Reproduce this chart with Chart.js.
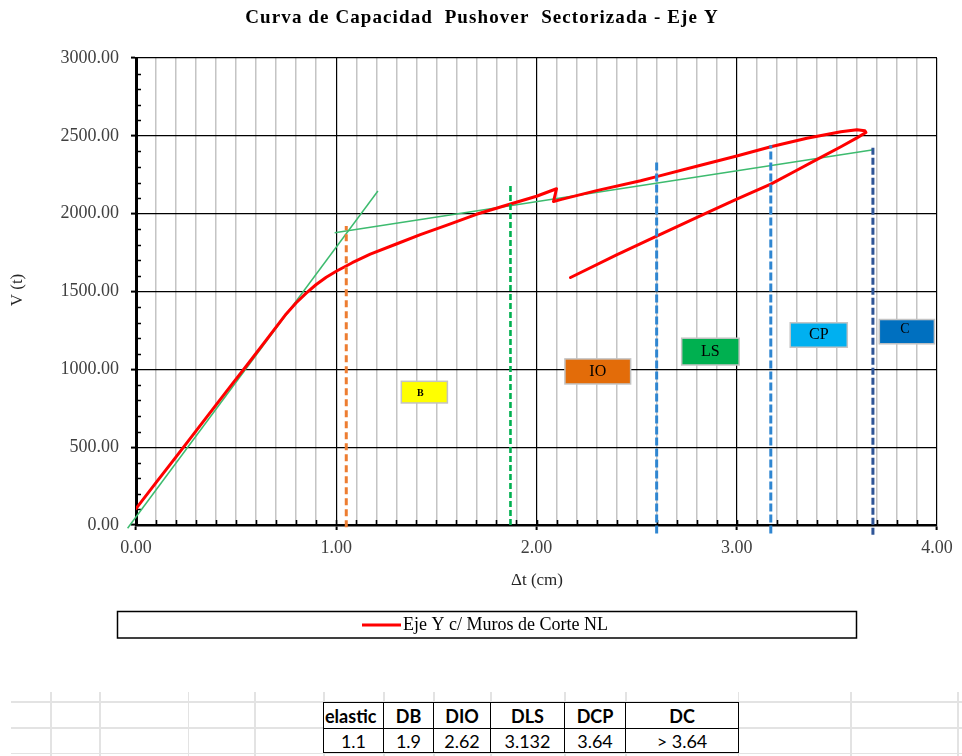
<!DOCTYPE html>
<html>
<head>
<meta charset="utf-8">
<title>Curva de Capacidad Pushover Sectorizada - Eje Y</title>
<script src="https://cdn.jsdelivr.net/npm/chart.js@4.4.1/dist/chart.umd.min.js"></script>
<style>
  html, body { margin: 0; padding: 0; background: #ffffff; }
  #wrap { position: relative; width: 962px; height: 756px; overflow: hidden; background: #ffffff; }
  #c { position: absolute; left: 0; top: 0; }
  .sheet-h { position: absolute; height: 1.5px; background: #e3e3e3; }
  .sheet-v { position: absolute; width: 1.5px; background: #e3e3e3; }
  table.lim {
    position: absolute; left: 323px; top: 702px;
    border-collapse: collapse; table-layout: fixed;
    font-family: Lato, "Open Sans", "Liberation Sans", sans-serif; color: #000;
    background: #fff;
  }
  table.lim td {
    border: 1.5px solid #000; padding: 0; text-align: center;
    overflow: hidden; white-space: nowrap; line-height: 1;
  }
  table.lim tr.head td { height: 25px; font-weight: bold; font-size: 18px; }
  table.lim tr.vals td { height: 23px; font-size: 18px; }
  table.lim tr.head td.first { text-align: left; padding-left: 1px; text-overflow: clip; }
</style>
</head>
<body>
<div id="wrap">
  <canvas id="c" width="962" height="756"></canvas>
</div>
<script>
// Pushover capacity curve, Y direction (walls with non-linear shear behaviour)
const displacement = [0.00, 0.10, 0.20, 0.30, 0.40, 0.48, 0.55, 0.65, 0.75, 0.80, 0.85, 0.90,
  0.95, 1.00, 1.08, 1.17, 1.30, 1.42, 1.56, 1.70, 1.87, 2.00, 2.10, 2.085, 2.12, 2.30, 2.52,
  2.60, 2.80, 3.00, 3.17, 3.35, 3.52, 3.60, 3.64, 3.645, 3.60, 3.52, 3.42, 3.30, 3.17, 3.00,
  2.85, 2.60, 2.40, 2.17];
const baseShear = [105, 272, 438, 605, 772, 905, 1020, 1188, 1356, 1428, 1490, 1545,
  1592, 1630, 1685, 1740, 1805, 1865, 1930, 1996, 2062, 2112, 2160, 2078, 2090, 2148, 2211,
  2238, 2305, 2370, 2430, 2485, 2526, 2539, 2533, 2522, 2487, 2430, 2362, 2279, 2190, 2093,
  2005, 1856, 1735, 1590];

// Bilinear idealisation: elastic branch and post-yield branch
const elasticX = [-0.042, 1.208];
const elasticY = [-21, 2146];
const plasticX = [0.992, 3.683];
const plasticY = [1878, 2410];

// Performance limit displacements (vertical markers)
const limitX = [1.05, 1.87, 2.60, 3.17, 3.68];
const limitTop = [1921, 2190, 2335, 2440, 2432];
const limitBottom = [-15, 0, -55, -55, -62];

// Performance level sectors
const levelNames = ['B', 'IO', 'LS', 'CP', 'C'];

// Summary table
const tableHeads = ['elastic', 'DB', 'DIO', 'DLS', 'DCP', 'DC'];
const tableValues = ['1.1', '1.9', '2.62', '3.132', '3.64', '> 3.64'];

// Axis ticks
const xTickLabels = ['0.00', '1.00', '2.00', '3.00', '4.00'];
const yTickLabels = ['0.00', '500.00', '1000.00', '1500.00', '2000.00', '2500.00', '3000.00'];

// ---- styling / placement of decorations ----
const limitStyles = [
  { color: '#ed7d31', width: 3, dash: [7, 4] },
  { color: '#00b050', width: 2.6, dash: [6, 3] },
  { color: '#2f86d1', width: 3, dash: [8, 3] },
  { color: '#2f86d1', width: 3, dash: [8, 3] },
  { color: '#2f5597', width: 3, dash: [7, 3] }
];
// sector tags, placed in axis units
const levelBoxes = [
  { x0: 1.325, x1: 1.555, y0: 784, y1: 923, fill: '#ffff00', font: 'bold 10px "Liberation Serif"', dx: -4, dy: 1, color: '#000' },
  { x0: 2.142, x1: 2.470, y0: 906, y1: 1067, fill: '#e36c09', font: '16px "Liberation Serif"', dx: 0, dy: 0, color: '#000' },
  { x0: 2.725, x1: 3.012, y0: 1028, y1: 1200, fill: '#00b050', font: '16px "Liberation Serif"', dx: 0, dy: 0, color: '#000' },
  { x0: 3.267, x1: 3.552, y0: 1142, y1: 1299, fill: '#00b0f0', font: '16px "Liberation Serif"', dx: 0, dy: 0, color: '#000' },
  { x0: 3.712, x1: 3.987, y0: 1164, y1: 1320, fill: '#0070c0', font: '14px "Liberation Serif"', dx: -2, dy: -2, color: '#000' }
];

const serif = '"Liberation Serif", "Times New Roman", serif';

function isWhole(v) { return Math.abs(v - Math.round(v)) < 1e-6; }

const datasets = [];
// vertical limit markers on top
limitX.forEach((lx, i) => {
  const st = limitStyles[i];
  datasets.push({
    label: 'lim' + i,
    data: [{ x: lx, y: limitBottom[i] }, { x: lx, y: limitTop[i] }],
    borderColor: st.color, borderWidth: st.width, borderDash: st.dash,
    pointRadius: 0, showLine: true, clip: false, order: 0, borderCapStyle: 'butt'
  });
});
datasets.push({
  label: 'Eje Y c/ Muros de Corte NL',
  data: displacement.map((d, i) => ({ x: d, y: baseShear[i] })),
  borderColor: '#ff0000', borderWidth: 3, pointRadius: 0, showLine: true,
  tension: 0, order: 1, borderJoinStyle: 'round', borderCapStyle: 'round'
});
datasets.push({
  label: 'elastic',
  data: elasticX.map((d, i) => ({ x: d, y: elasticY[i] })),
  borderColor: '#3dbb6f', borderWidth: 1.5, pointRadius: 0, showLine: true, clip: false, order: 2
});
datasets.push({
  label: 'plastic',
  data: plasticX.map((d, i) => ({ x: d, y: plasticY[i] })),
  borderColor: '#3dbb6f', borderWidth: 1.5, pointRadius: 0, showLine: true, clip: false, order: 2
});

const decor = {
  id: 'decor',
  beforeDatasetsDraw(chart) {
    const { ctx, chartArea: a, scales: { x, y } } = chart;
    ctx.save();
    ctx.strokeStyle = '#000';
    ctx.lineWidth = 1.6;
    ctx.beginPath();
    for (let v = 100; v < 3000; v += 100) {
      if (v % 500 === 0) continue;
      const py = Math.round(y.getPixelForValue(v)) + 0.5;
      ctx.moveTo(a.left, py); ctx.lineTo(a.left + 5, py);
    }
    for (let i = 1; i < 40; i++) {
      const px = Math.round(x.getPixelForValue(i / 10)) + 0.5;
      ctx.moveTo(px, a.bottom); ctx.lineTo(px, a.bottom - 5);
    }
    ctx.stroke();
    ctx.restore();
  },
  afterDatasetsDraw(chart) {
    const { ctx, scales: { x, y } } = chart;
    ctx.save();
    levelBoxes.forEach((b, i) => {
      const l = x.getPixelForValue(b.x0), r = x.getPixelForValue(b.x1);
      const t = y.getPixelForValue(b.y1), btm = y.getPixelForValue(b.y0);
      ctx.fillStyle = b.fill;
      ctx.fillRect(l, t, r - l, btm - t);
      ctx.strokeStyle = '#c3c3c3';
      ctx.lineWidth = 1.5;
      ctx.strokeRect(l, t, r - l, btm - t);
      ctx.fillStyle = b.color;
      ctx.font = b.font;
      ctx.textAlign = 'center';
      ctx.textBaseline = 'middle';
      ctx.fillText(levelNames[i], (l + r) / 2 + b.dx, (t + btm) / 2 + b.dy);
    });
    ctx.restore();
  },
  afterDraw(chart) {
    const { ctx } = chart;
    ctx.save();
    // title
    ctx.fillStyle = '#000';
    ctx.font = 'bold 19px ' + serif;
    ctx.textAlign = 'center';
    ctx.textBaseline = 'middle';
    ctx.letterSpacing = '1.1px';
    ctx.fillText('Curva de Capacidad  Pushover  Sectorizada - Eje Y', 482, 18);
    ctx.letterSpacing = '0px';
    // axis titles
    ctx.fillStyle = '#262626';
    ctx.font = '17px ' + serif;
    ctx.fillText('\u0394t (cm)', 537, 581);
    ctx.save();
    ctx.translate(18, 290);
    ctx.rotate(-Math.PI / 2);
    ctx.fillText('V (t)', 0, 0);
    ctx.restore();
    // legend
    ctx.strokeStyle = '#000';
    ctx.lineWidth = 1.5;
    ctx.strokeRect(117.5, 611.5, 739, 26.5);
    ctx.strokeStyle = '#ff0000';
    ctx.lineWidth = 3;
    ctx.beginPath();
    ctx.moveTo(362, 625); ctx.lineTo(401, 625);
    ctx.stroke();
    ctx.fillStyle = '#000';
    ctx.font = '18px ' + serif;
    ctx.textAlign = 'left';
    ctx.fillText(chart.data.datasets[limitX.length].label, 403, 625);
    ctx.restore();
  }
};

new Chart(document.getElementById('c'), {
  type: 'scatter',
  data: { datasets },
  options: {
    responsive: false,
    devicePixelRatio: 1,
    animation: false,
    layout: { padding: { left: 0, right: 25, top: 58, bottom: 0 } },
    plugins: { legend: { display: false }, tooltip: { enabled: false }, title: { display: false } },
    scales: {
      x: {
        type: 'linear', position: 'bottom', min: 0, max: 4,
        afterFit(s) { s.height = 231; },
        ticks: {
          stepSize: 0.1, maxTicksLimit: 100, autoSkip: false, maxRotation: 0, minRotation: 0,
          padding: 7, color: '#404040', font: { family: serif, size: 18 },
          callback(v) { return isWhole(v) ? xTickLabels[Math.round(v)] : ''; }
        },
        grid: {
          drawTicks: true, tickLength: 5,
          color(c) { return c.tick && isWhole(c.tick.value) ? '#000000' : '#c4c4c4'; },
          lineWidth(c) { return c.tick && isWhole(c.tick.value) ? 1.2 : 1.5; },
          tickColor(c) { return c.tick && isWhole(c.tick.value) ? '#000000' : 'rgba(0,0,0,0)'; },
          tickWidth: 2
        },
        border: { display: true, color: '#000', width: 2.5 }
      },
      y: {
        type: 'linear', min: 0, max: 3000,
        afterFit(s) { s.width = 136; },
        ticks: {
          stepSize: 500, padding: 12, color: '#404040', font: { family: serif, size: 18 },
          callback(v) { return yTickLabels[Math.round(v / 500)]; }
        },
        grid: { color: '#000', lineWidth: 1.2, drawTicks: true, tickLength: 5, tickColor: '#000', tickWidth: 2 },
        border: { display: true, color: '#000', width: 3 }
      }
    }
  },
  plugins: [decor]
});

// spreadsheet area with the limit table
(function buildSheet() {
  const wrap = document.getElementById('wrap');
  const rowsY = [701, 727, 752.5];
  const colsX = [50, 99, 187.5, 254, 323, 383, 433, 490, 564, 625, 737.5, 850, 957];
  rowsY.forEach(yy => {
    const d = document.createElement('div');
    d.className = 'sheet-h';
    d.style.left = '11px'; d.style.width = '951px'; d.style.top = yy + 'px';
    wrap.appendChild(d);
  });
  colsX.forEach(xx => {
    const d = document.createElement('div');
    d.className = 'sheet-v';
    d.style.left = xx + 'px'; d.style.top = '692px'; d.style.height = '64px';
    wrap.appendChild(d);
  });
  const widths = [60, 50, 57, 74, 61, 113];
  const tbl = document.createElement('table');
  tbl.className = 'lim';
  const cg = document.createElement('colgroup');
  widths.forEach(w => { const c = document.createElement('col'); c.style.width = w + 'px'; cg.appendChild(c); });
  tbl.appendChild(cg);
  const tr1 = document.createElement('tr'); tr1.className = 'head';
  tableHeads.forEach((h, i) => {
    const td = document.createElement('td'); td.textContent = h;
    if (i === 0) td.className = 'first';
    tr1.appendChild(td);
  });
  const tr2 = document.createElement('tr'); tr2.className = 'vals';
  tableValues.forEach(v => { const td = document.createElement('td'); td.textContent = v; tr2.appendChild(td); });
  tbl.appendChild(tr1); tbl.appendChild(tr2);
  wrap.appendChild(tbl);
})();
</script>
</body>
</html>
